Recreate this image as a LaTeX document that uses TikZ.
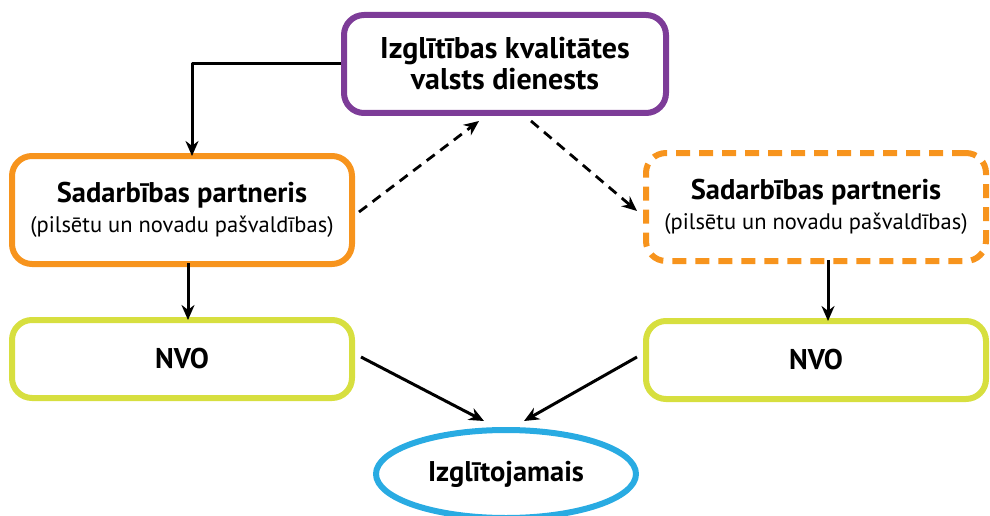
\documentclass[tikz,border=0pt]{standalone}
\usepackage{fontspec}
\setmainfont{PT Sans}
\usetikzlibrary{arrows.meta,shapes.geometric}
\definecolor{tumsviolets}{HTML}{7D3C98}
\definecolor{oranzs}{HTML}{F7941D}
\definecolor{dzeltzals}{HTML}{D7DF3F}
\definecolor{zils}{HTML}{29ABE2}
\begin{document}
\begin{tikzpicture}[x=1pt,y=-1pt,>={Stealth[length=15pt,width=13pt]}, line join=round,
  kaste/.style={draw, line width=6pt, rounded corners=20pt, align=center, inner sep=0pt},
  bultina/.style={->, line width=3pt},
  svitr/.style={->, line width=2.8pt, dash pattern=on 10pt off 7pt}]
\def\platums{340} % kastu platums
\def\lielais{\fontsize{28.5}{34}\selectfont\bfseries}
\def\mazais{\fontsize{22.5}{26}\selectfont}
\useasboundingbox (0,0) rectangle (990,516);
\node[kaste, draw=tumsviolets, minimum width=322pt, minimum height=98pt, font=\fontsize{30}{31}\selectfont\bfseries] (dienests) at (505,64) {Izglītības kvalitātes\\valsts dienests};
\node[kaste, draw=oranzs, minimum width=\platums pt, minimum height=108pt] (partnL) at (182,210) {{\lielais Sadarbības partneris}\\[7pt]{\mazais (pilsētu un novadu pašvaldības)}};
\node[kaste, draw=oranzs, dash pattern=on 14pt off 9pt, minimum width=\platums pt, minimum height=108pt] (partnR) at (816,207) {{\lielais Sadarbības partneris}\\[7pt]{\mazais (pilsētu un novadu pašvaldības)}};
\node[kaste, draw=dzeltzals, minimum width=\platums pt, minimum height=78pt, font=\lielais] (nvoL) at (182,359) {NVO};
\node[kaste, draw=dzeltzals, minimum width=\platums pt, minimum height=78pt, font=\lielais] (nvoR) at (816,360) {NVO};
\node[draw=zils, line width=6pt, ellipse, minimum width=260pt, minimum height=88pt, inner sep=0pt, font=\lielais] (izglitojamais) at (506,474) {Izglītojamais};
% savienojumi
\draw[bultina] (dienests.west) -| ([xshift=10pt,yshift=-3pt]partnL.north);
\draw[svitr] ([shift={(4,2)}]partnL.east) -- ([shift={(-26,5)}]dienests.south);
\draw[svitr] ([shift={(26,5)}]dienests.south) -- ([shift={(-6,4)}]partnR.west);
\draw[bultina] ([xshift=6pt,yshift=4pt]partnL.south) -- ([xshift=6pt,yshift=-3pt]nvoL.north);
\draw[bultina] ([xshift=12pt,yshift=4pt]partnR.south) -- ([xshift=12pt,yshift=-3pt]nvoR.north);
\draw[bultina] ([shift={(6,-2)}]nvoL.east) -- ([shift={(-22,-6)}]izglitojamais.north);
\draw[bultina] ([shift={(-6,-3)}]nvoR.west) -- ([shift={(18,-6)}]izglitojamais.north);
\end{tikzpicture}
\end{document}
